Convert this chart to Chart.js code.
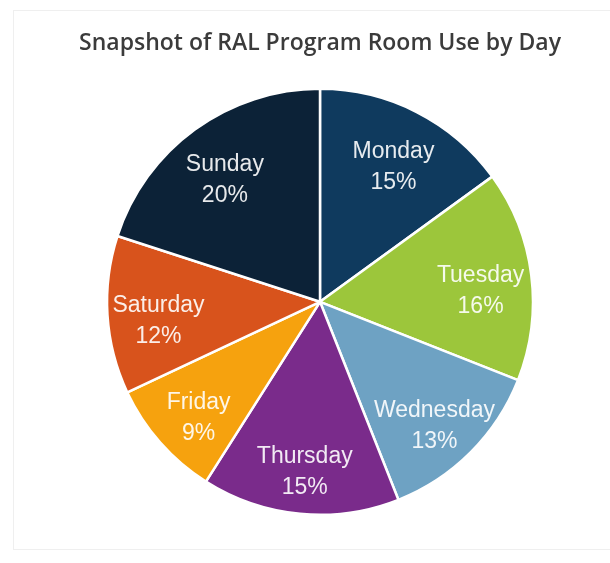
<!DOCTYPE html>
<html>
<head>
<meta charset="utf-8">
<script src="https://cdn.jsdelivr.net/npm/chart.js@4"></script>
<style>
  html, body { margin: 0; padding: 0; background: #ffffff; }
  #wrap { position: relative; width: 610px; height: 563px; }
  #frame { position: absolute; left: 13px; top: 10px; width: 610px; height: 540px;
           border: 1px solid #efefef; box-sizing: border-box; }
  #chart { position: absolute; left: 0; top: 0; }
</style>
</head>
<body>
<div id="wrap">
  <div id="frame"></div>
  <canvas id="chart" width="610" height="563"></canvas>
</div>
<script>
// Share of program room use for each weekday (percent)
const days = ['Monday', 'Tuesday', 'Wednesday', 'Thursday', 'Friday', 'Saturday', 'Sunday'];
const shares = [15, 16, 13, 15, 9, 12, 20];
const sliceColors = ['#0f3a5e', '#9cc63b', '#6ea2c3', '#7a2b8b', '#f6a20e', '#d8531c', '#0c2237'];

// Writes "Day" and "NN%" inside every slice, placed along the slice's middle angle
const sliceLabels = {
  id: 'sliceLabels',
  afterDatasetsDraw(chart) {
    const { ctx } = chart;
    const meta = chart.getDatasetMeta(0);
    ctx.save();
    ctx.font = '23px "Liberation Sans", Arial, sans-serif';
    ctx.fillStyle = 'rgba(255,255,255,0.9)';
    ctx.textAlign = 'center';
    ctx.textBaseline = 'middle';
    meta.data.forEach((arc, i) => {
      const p = arc.getProps(['x', 'y', 'startAngle', 'endAngle', 'outerRadius'], true);
      const mid = (p.startAngle + p.endAngle) / 2;
      const r = p.outerRadius * 0.76;
      const cx = p.x + Math.cos(mid) * r;
      const cy = p.y + Math.sin(mid) * r;
      ctx.fillText(days[i], cx, cy - 6);
      ctx.fillText(shares[i] + '%', cx, cy + 25);
    });
    ctx.restore();
  }
};

new Chart(document.getElementById('chart'), {
  type: 'pie',
  data: {
    labels: days,
    datasets: [{
      data: shares,
      backgroundColor: sliceColors,
      borderColor: '#ffffff',
      borderWidth: 2.5
    }]
  },
  options: {
    responsive: false,
    animation: false,
    layout: { padding: { left: 30, right: 0, top: 0, bottom: 47 } },
    plugins: {
      legend: { display: false },
      tooltip: { enabled: false },
      title: {
        display: true,
        text: 'Snapshot of RAL Program Room Use by Day',
        color: '#3b3b3b',
        font: { family: '"Open Sans", sans-serif', size: 23, weight: '600' },
        padding: { top: 30, bottom: 30 }
      }
    }
  },
  plugins: [sliceLabels]
});
</script>
</body>
</html>
